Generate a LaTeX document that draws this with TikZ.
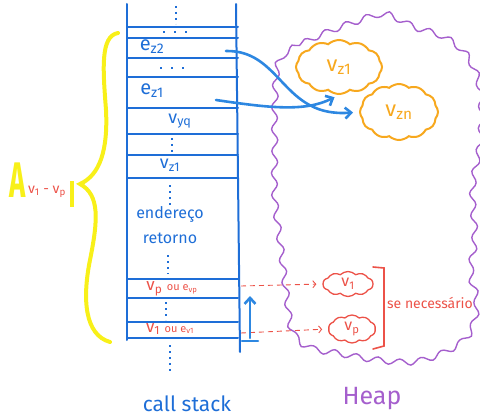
\documentclass[tikz,border=0pt]{standalone}
\usepackage{fontspec}
\setmainfont{Fira Sans}
\usetikzlibrary{shapes.symbols,decorations.pathmorphing,arrows.meta}
\definecolor{stackblue}{RGB}{30,110,215}
\definecolor{arrowblue}{RGB}{45,135,225}
\definecolor{heappurple}{RGB}{165,95,205}
\definecolor{cloudorange}{RGB}{247,168,30}
\definecolor{redline}{RGB}{236,82,72}
\definecolor{hiyellow}{RGB}{248,240,25}
\tikzset{
  stackline/.style={draw=stackblue,line width=2pt,line cap=round},
  dotline/.style={draw=stackblue,line width=2.2pt,dash pattern=on 2pt off 4pt},
  hdotline/.style={draw=stackblue,line width=2.6pt,dash pattern=on 2pt off 9pt},
  stacktext/.style={text=stackblue,font=\fontsize{16}{16}\selectfont,inner sep=0pt},
  redtext/.style={text=redline,font=\fontsize{14}{14}\selectfont,inner sep=0pt},
  bluearrow/.style={draw=arrowblue,line width=2.6pt,line cap=round,-{Straight Barb[length=6pt,width=11pt]}},
  redarrow/.style={draw=redline,line width=0.9pt,dash pattern=on 5pt off 4pt,-{Straight Barb[length=3pt,width=7pt]}},
  orangecloud/.style={cloud,draw=cloudorange,line width=2pt,cloud puffs=12,cloud puff arc=85,text=cloudorange,font=\fontsize{22}{22}\selectfont,inner sep=1pt},
  redcloud/.style={cloud,draw=redline,line width=1.3pt,cloud puffs=10,cloud puff arc=90,text=redline,font=\fontsize{16}{16}\selectfont,inner sep=0pt},
  heapline/.style={draw=heappurple,line width=1.4pt},
}
\begin{document}
\begin{tikzpicture}[x=1pt,y=-1pt]
\useasboundingbox (0,0) rectangle (480,420);
% heap outline
\draw[heapline,decorate,decoration={snake,amplitude=3pt,segment length=22pt}]
  plot[smooth cycle,tension=0.6] coordinates {(275,62) (300,45) (327,33) (352,24) (380,17) (410,30) (440,40) (462,58) (475,90) (476,140) (468,190) (470,240) (466,275) (472,305) (465,335) (445,352) (410,364) (370,362) (335,356) (305,350) (288,335) (282,300) (276,250) (270,200) (270,150) (270,105)};
% stack
\draw[stackline] (127,4) -- (127,340);
\draw[stackline] (236,4) -- (240,352);
\foreach \y in {27,38,58,77,108,134,155,178,279,298,322,338}
  \draw[stackline] (127,\y) -- (238,\y);
\draw[dotline] (176,6) -- (176,24);
\draw[hdotline] (163,32) -- (188,32);
\draw[hdotline] (160,68) -- (186,68);
\draw[dotline] (172,138) -- (172,152);
\draw[dotline] (170,185) -- (170,205);
\draw[dotline] (168,255) -- (168,274);
\draw[dotline] (166,302) -- (166,320);
\draw[dotline] (170,345) -- (170,372);
\node[stacktext,font=\fontsize{20}{20}\selectfont] (ez2) at (152,47) {e\textsubscript{z2}};
\node[stacktext,font=\fontsize{20}{20}\selectfont] (ez1) at (152,91) {e\textsubscript{z1}};
\node[stacktext,font=\fontsize{18}{18}\selectfont] (vyq) at (180,121) {v\textsubscript{yq}};
\node[stacktext,font=\fontsize{18}{18}\selectfont] (vz1s) at (170,165) {v\textsubscript{z1}};
\node[stacktext] (end) at (170,214) {endereço};
\node[stacktext] (ret) at (170,238) {retorno};
\node[redtext,font=\fontsize{17}{17}\selectfont] (rowp) at (172,289) {v\textsubscript{p} {\fontsize{11}{11}\selectfont ou e\textsubscript{vp}}};
\node[redtext,font=\fontsize{17}{17}\selectfont] (row1) at (170,329) {v\textsubscript{1} {\fontsize{11}{11}\selectfont ou e\textsubscript{v1}}};
\node[stacktext,font=\fontsize{21}{21}\selectfont] (cs) at (187,404) {call stack};
\node[text=heappurple,font=\fontsize{25}{25}\selectfont,inner sep=0pt] (heap) at (372,399) {Heap};
% heap objects
\node[orangecloud,minimum width=86pt,minimum height=54pt] (vz1) at (339,67) {v\textsubscript{z1}};
\node[orangecloud,minimum width=78pt,minimum height=56pt] (vzn) at (399,112) {v\textsubscript{zn}};
\node[redcloud,minimum width=50pt,minimum height=25pt] (v1) at (348,284) {v\textsubscript{1}};
\node[redcloud,minimum width=47pt,minimum height=28pt] (vp) at (352,329) {v\textsubscript{p}};
% pointer arrows
\coordinate (sz2) at (226,51);
\coordinate (sz1) at (216,100);
\draw[bluearrow,shorten >=6pt] (sz2) .. controls (282,50) and (282,118) .. (vzn.west);
\draw[bluearrow,shorten >=5pt] (sz1) .. controls (270,108) and (305,112) .. (vz1.south);
\coordinate (rp) at (241,286);
\coordinate (r1) at (241,333);
\draw[redarrow,shorten >=6pt] (rp) -- (v1.west);
\draw[redarrow,shorten >=6pt] (r1) -- (vp.west);
% growth arrow
\coordinate (upb) at (250,338);
\coordinate (upt) at (250,296);
\draw[bluearrow] (upb) -- (upt);
\draw[draw=arrowblue,line width=2.6pt,line cap=round] (242,341) -- (258,341);
% bracket
\draw[draw=redline,line width=1.6pt,line cap=round] (373,267) -- (384,268) -- (384,346) -- (373,349);
\node[redtext] (nec) at (430,303) {se necessário};
% yellow brace
\draw[draw=hiyellow,line width=4pt,line cap=round]
  (118,33) .. controls (100,36) and (103,70) .. (106,110)
  .. controls (108,150) and (100,175) .. (80,184)
  .. controls (100,195) and (98,220) .. (90,260)
  .. controls (82,300) and (85,335) .. (110,342);
\node[text=hiyellow,font=\fontsize{50}{50}\bfseries,xscale=0.55,inner sep=0pt] (A) at (18,180) {A};
\node[text=redline,font=\fontsize{14}{14}\selectfont,inner sep=0pt] (Aarg) at (47,192) {v\textsubscript{1} - v\textsubscript{p}};
\draw[draw=hiyellow,line width=4.5pt] (72,181) -- (72,207);
\end{tikzpicture}
\end{document}
